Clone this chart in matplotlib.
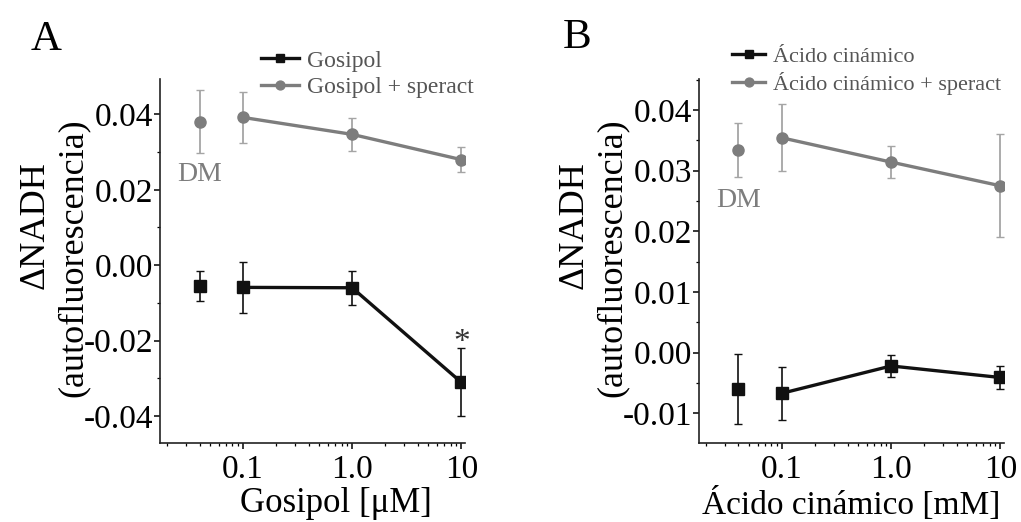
import matplotlib
matplotlib.use('Agg')
import matplotlib.pyplot as plt
from matplotlib.ticker import FixedLocator, MultipleLocator, LogLocator, NullFormatter

plt.rcParams['font.family'] = ['Liberation Serif', 'DejaVu Serif']
plt.rcParams['axes.unicode_minus'] = False

# concentrations; DM (vehicle) is drawn apart at the left
conc = [0.1, 1.0, 10]
dm_x = 0.04

# panel A: gosipol
gos_mean = [-0.0059, -0.0060, -0.0311]
gos_err = [0.0067, 0.0045, 0.0090]
gos_dm, gos_dm_err = -0.0055, 0.0040
gos_sp_mean = [0.0392, 0.0347, 0.0280]
gos_sp_err = [0.0068, 0.0043, 0.0033]
gos_sp_dm, gos_sp_dm_err = 0.0381, 0.0083

# panel B: acido cinamico
cin_mean = [-0.0067, -0.0022, -0.0041]
cin_err = [0.0044, 0.0018, 0.0019]
cin_dm, cin_dm_err = -0.0060, 0.0058
cin_sp_mean = [0.0354, 0.0314, 0.0275]
cin_sp_err = [0.0055, 0.0027, 0.0085]
cin_sp_dm, cin_sp_dm_err = 0.0334, 0.0044

xtick_labels = ['0.1', '1.0', '10']

BLACK = '#111111'
GRAY = '#7d7d7d'
GRAY_ERR = '#a5a5a5'
TEXT_GRAY = '#555555'


def draw_panel(ax, mean, err, dm, dm_err, sp_mean, sp_err, sp_dm, sp_dm_err,
               label, label_sp):
    # error bars first
    ax.errorbar(conc + [dm_x], sp_mean + [sp_dm], yerr=sp_err + [sp_dm_err],
                fmt='none', ecolor=GRAY_ERR, elinewidth=1.3, capsize=3, zorder=2)
    ax.errorbar(conc + [dm_x], mean + [dm], yerr=err + [dm_err],
                fmt='none', ecolor=BLACK, elinewidth=1.2, capsize=3, zorder=2)
    # connected series
    l1, = ax.plot(conc, mean, color=BLACK, lw=2.4, marker='s', ms=8, zorder=3, label=label)
    l2, = ax.plot(conc, sp_mean, color=GRAY, lw=2.4, marker='o', ms=8, zorder=3, label=label_sp)
    # DM points, not connected
    ax.plot([dm_x], [dm], color=BLACK, marker='s', ms=8, ls='none', zorder=3)
    ax.plot([dm_x], [sp_dm], color=GRAY, marker='o', ms=8, ls='none', zorder=3)

    ax.set_xscale('log')
    ax.set_xlim(0.01738, 10.8)
    ax.xaxis.set_major_locator(FixedLocator(conc))
    ax.set_xticklabels(xtick_labels)
    ax.xaxis.set_minor_locator(LogLocator(base=10, subs=range(2, 10)))
    ax.xaxis.set_minor_formatter(NullFormatter())

    for s in ['top', 'right']:
        ax.spines[s].set_visible(False)
    for s in ['left', 'bottom']:
        ax.spines[s].set_linewidth(1.2)
        ax.spines[s].set_color('#222222')
    ax.tick_params(which='major', length=4, width=1.1, labelsize=24, direction='out')
    ax.tick_params(which='minor', length=2.5, width=0.9, direction='out')
    ax.tick_params(axis='y', pad=1)
    ax.tick_params(axis='x', pad=4)
    return l1, l2


fig = plt.figure(figsize=(10.21, 5.22), dpi=100)
axA = fig.add_axes([0.1567, 0.1513, 0.2987, 0.6974])
axB = fig.add_axes([0.6846, 0.1513, 0.2987, 0.6974])

hA = draw_panel(axA, gos_mean, gos_err, gos_dm, gos_dm_err,
                gos_sp_mean, gos_sp_err, gos_sp_dm, gos_sp_dm_err,
                'Gosipol', 'Gosipol + speract')
axA.set_ylim(-0.0472, 0.0494)
axA.yaxis.set_major_locator(MultipleLocator(0.02))
axA.yaxis.set_minor_locator(MultipleLocator(0.01))
axA.yaxis.set_major_formatter(plt.FuncFormatter(lambda v, p: f'{v:.2f}'))
axA.text(dm_x, 0.0240, 'DM', color=GRAY, fontsize=20, ha='center', va='center')
axA.text(10, -0.0207, '*', color='#333333', fontsize=24, ha='center', va='center')

hB = draw_panel(axB, cin_mean, cin_err, cin_dm, cin_dm_err,
                cin_sp_mean, cin_sp_err, cin_sp_dm, cin_sp_dm_err,
                'Ácido cinámico', 'Ácido cinámico + speract')
axB.set_ylim(-0.0149, 0.0451)
axB.yaxis.set_major_locator(MultipleLocator(0.01))
axB.yaxis.set_minor_locator(MultipleLocator(0.005))
axB.yaxis.set_major_formatter(plt.FuncFormatter(lambda v, p: f'{v:.2f}'))
axB.text(dm_x, 0.0250, 'DM', color=GRAY, fontsize=20, ha='center', va='center')

# legends above each panel
for ax, handles, anchor, fs, hl in [(axA, hA, (261 / 1021, 1 - 50 / 522), 17, 1.6),
                                   (axB, hB, (732 / 1021, 1 - 46 / 522), 16, 1.5)]:
    leg = ax.legend(handles=handles, loc='upper left', bbox_to_anchor=anchor,
                    bbox_transform=fig.transFigure, frameon=False, fontsize=fs,
                    borderpad=0, borderaxespad=0, handlelength=hl, handletextpad=0.35,
                    labelspacing=0.23, markerscale=0.8)
    for t in leg.get_texts():
        t.set_color(TEXT_GRAY)

# axis labels
fig.text(336 / 1021, 1 - 504 / 522, 'Gosipol [μM]', fontsize=25, ha='center', va='center')
fig.text(851 / 1021, 1 - 504 / 522, 'Ácido cinámico [mM]', fontsize=24, ha='center', va='center')
for x0 in [0, 539]:
    fig.text((x0 + 35) / 1021, 1 - 225 / 522, 'ΔNADH', fontsize=26, rotation=90,
             ha='center', va='center')
    fig.text((x0 + 73) / 1021, 1 - 258 / 522, '(autofluorescencia)', fontsize=26,
             rotation=90, ha='center', va='center')

# panel letters
fig.text(46 / 1021, 1 - 40 / 522, 'A', fontsize=31, ha='center', va='center')
fig.text(577 / 1021, 1 - 38 / 522, 'B', fontsize=31, ha='center', va='center')

fig.savefig('out.png', dpi=100)
plt.close(fig)
